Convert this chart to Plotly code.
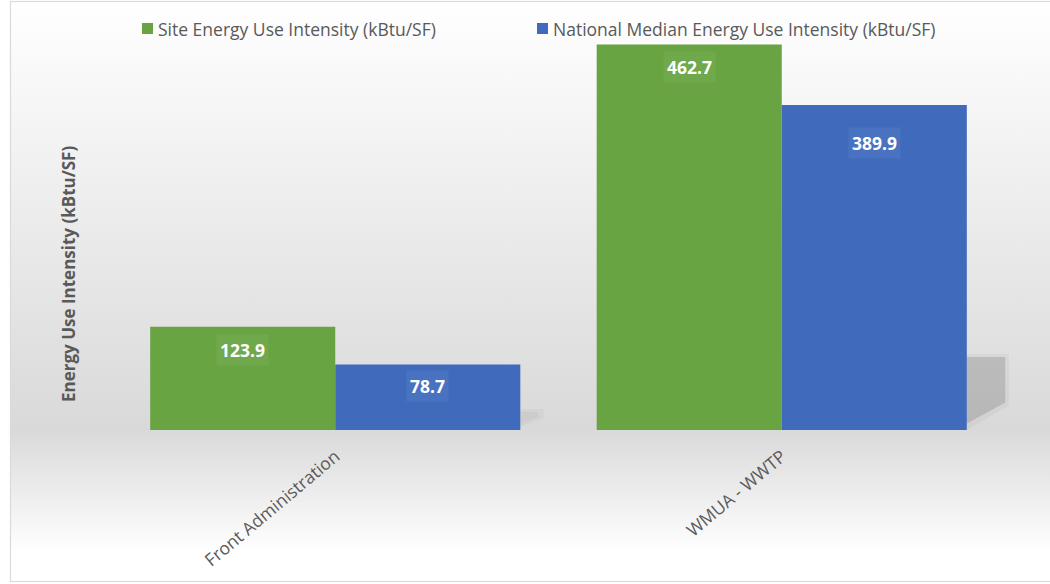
import plotly.graph_objects as go
import urllib.parse

categories = ["Front Administration", "WMUA - WWTP"]
site_eui = [123.9, 462.7]
national_eui = [78.7, 389.9]
series_names = ["Site Energy Use Intensity (kBtu/SF)", "National Median Energy Use Intensity (kBtu/SF)"]
y_title = "Energy Use Intensity (kBtu/SF)"

GREEN = "#69a443"
BLUE = "#406bbd"
TXT = "#595959"
FONT = "Open Sans"
FS = 17.5

W, H = 1050, 584
ML, MR, MT, MB = 112, 45, 30, 154
PW, PH = W - ML - MR, H - MT - MB
YMAX = 480
BARGAP = 0.171


def px_x(p):
    return (p - ML) / PW


def px_y(p):
    return (H - MB - p) / PH


# background gradient (white -> gray at floor -> white) with chart border
svg = f'''<svg xmlns="http://www.w3.org/2000/svg" width="{W}" height="{H}" viewBox="0 0 {W} {H}" preserveAspectRatio="none">
<defs><linearGradient id="g" x1="0" y1="0" x2="0" y2="1">
<stop offset="0" stop-color="#ffffff"/>
<stop offset="0.08" stop-color="#fbfbfb"/>
<stop offset="0.737" stop-color="#d9d9d9"/>
<stop offset="0.95" stop-color="#ffffff"/>
<stop offset="1" stop-color="#ffffff"/>
</linearGradient></defs>
<rect x="10.5" y="1.5" width="1100" height="580" fill="url(#g)" stroke="#dadada" stroke-width="1.2"/>
</svg>'''
src = "data:image/svg+xml;charset=utf-8," + urllib.parse.quote(svg)

colors = [GREEN, BLUE]
fig = go.Figure()
for name, vals, col in zip(series_names, [site_eui, national_eui], colors):
    fig.add_trace(go.Bar(x=categories, y=vals, name=name, showlegend=False,
                         marker=dict(color=col, line=dict(width=0))))

bar_w = (1 - BARGAP) / 2  # width of one bar in category units

# data labels
label_shift = {0: [-23, -23], 1: [-22, -38]}
for s, vals in enumerate([site_eui, national_eui]):
    for i, v in enumerate(vals):
        fig.add_annotation(x=i, xshift=(-1 if s == 0 else 1) * (bar_w / 2) * PW / 2, y=v,
                           yshift=label_shift[s][i],
                           text=f"<b>{v:.1f}</b>", showarrow=False, yanchor="middle",
                           font=dict(family=FONT, size=17.5, color="white"),
                           bgcolor="rgba(255,255,255,0.05)", borderpad=3)

# soft shadows to the right of the blue bars (paper coords derived from category index / value)
for i, v in enumerate(national_eui):
    edge = (i + bar_w + 0.5) / 2  # paper x of right edge of blue bar
    if i == 1:
        layers = [(0.0, 0.235, 0.047, 0.075, 0.07), (0.02, 0.225, 0.043, 0.085, 0.26)]
    else:
        layers = [(0.05, 0.32, 0.026, 0.18, 0.06), (0.1, 0.28, 0.02, 0.2, 0.07)]
    for y0f, y1f, wdt, yrf, op in layers:
        path = (f"M {edge},{v*y0f/YMAX} L {edge},{v*y1f/YMAX} L {edge+wdt},{v*y1f/YMAX} "
                f"L {edge+wdt},{v*yrf/YMAX} Z")
        fig.add_shape(type="path", path=path, xref="paper", yref="paper", fillcolor="#6e6e6e",
                      opacity=op, line=dict(width=0), layer="below")

# legend (swatch + text)
legend_px = [142, 537]
for name, col, lx in zip(series_names, colors, legend_px):
    fig.add_shape(type="rect", xref="paper", yref="paper", x0=px_x(lx), x1=px_x(lx + 11),
                  y0=px_y(34), y1=px_y(23), fillcolor=col, line=dict(width=0))
    fig.add_annotation(x=px_x(lx + 14), y=px_y(28.5), xref="paper", yref="paper", xanchor="left",
                       yanchor="middle", text=name, showarrow=False,
                       font=dict(family=FONT, size=FS, color=TXT))

fig.add_annotation(x=px_x(68), y=px_y(274), xref="paper", yref="paper", xanchor="center", yanchor="middle",
                   text=f"<b>{y_title}</b>", textangle=-90, showarrow=False,
                   font=dict(family=FONT, size=17, color=TXT))

fig.add_layout_image(source=src, xref="paper", yref="paper", x=-ML / PW, y=1 + MT / PH,
                     sizex=W / PW, sizey=H / PH, xanchor="left", yanchor="top",
                     sizing="stretch", layer="below")

fig.update_layout(
    width=W, height=H,
    margin=dict(l=ML, r=MR, t=MT, b=MB, autoexpand=False),
    paper_bgcolor="white", plot_bgcolor="rgba(0,0,0,0)",
    barmode="group", bargap=BARGAP, bargroupgap=0,
    font=dict(family=FONT, color=TXT),
    showlegend=False,
    xaxis=dict(tickangle=-40, tickfont=dict(family=FONT, size=FS, color=TXT), showgrid=False,
               showline=False, zeroline=False, ticks="", ticklabelstandoff=12),
    yaxis=dict(range=[0, YMAX], visible=False, showgrid=False, zeroline=False),
)

fig.write_html("out.html")
